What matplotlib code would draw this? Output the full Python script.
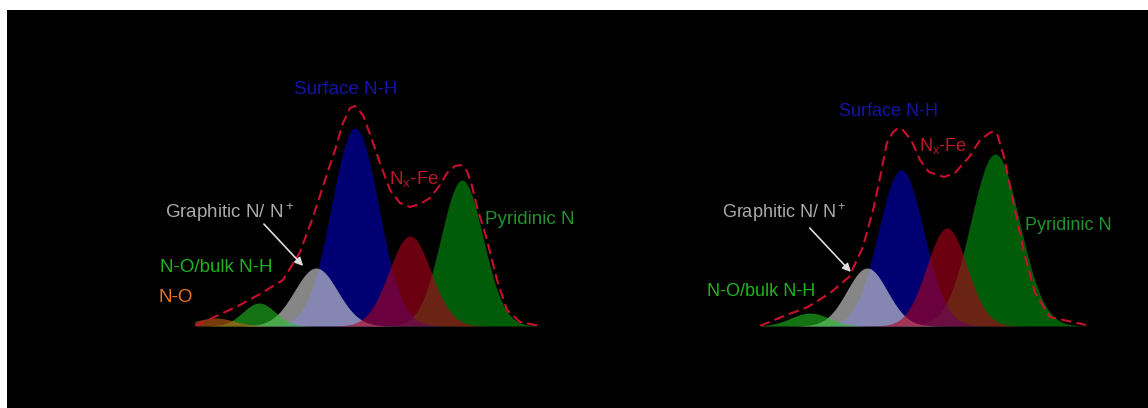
import numpy as np
import matplotlib
matplotlib.use('Agg')
import matplotlib.pyplot as plt
from matplotlib.patches import Rectangle

plt.rcParams['font.family'] = ['Liberation Sans', 'DejaVu Sans']
plt.rcParams['mathtext.default'] = 'regular'

# N 1s fit components: centre (eV), height (a.u.), sigma (eV)
names_a = ['N-O', 'N-O/bulk N-H', 'Graphitic', 'Surface N-H', 'Nx-Fe', 'Pyridinic']
center_a = [403.60, 402.72, 401.58, 400.80, 399.70, 398.66]
height_a = [8, 23, 58, 198, 90, 146]
sigma_a = [0.38, 0.32, 0.43, 0.47, 0.42, 0.42]

names_b = ['N-O/bulk N-H', 'Graphitic', 'Surface N-H', 'Nx-Fe', 'Pyridinic']
center_b = [402.81, 401.45, 400.64, 399.55, 398.40]
height_b = [13, 58, 156, 98, 172]
sigma_b = [0.45, 0.48, 0.54, 0.48, 0.58]

# fitted envelopes
env_e_a = [404.00, 403.70, 403.44, 403.10, 402.70, 402.24, 401.90, 401.64, 401.40,
           401.20, 401.04, 400.90, 400.80, 400.64, 400.46, 400.30, 400.10, 399.90,
           399.70, 399.50, 399.30, 399.10, 398.96, 398.80, 398.68, 398.56, 398.46,
           398.36, 398.16, 397.96, 397.76, 397.50, 397.10]
env_i_a = [0, 7, 13, 21, 32, 46, 74, 109, 146, 176, 203, 218, 220, 211, 186, 163,
           136, 123, 119, 122, 128, 141, 153, 160, 161, 155, 140, 119, 86, 46, 16, 4, 0]

env_e_b = [404.00, 403.55, 402.86, 402.33, 401.88, 401.55, 401.29, 401.12, 400.98,
           400.83, 400.71, 400.60, 400.40, 400.19, 399.98, 399.62, 399.36, 399.02,
           398.76, 398.50, 398.36, 398.19, 397.98, 397.71, 397.45, 397.10, 396.24]
env_i_b = [0, 8, 19, 33, 49, 79, 119, 153, 183, 194, 198, 196, 186, 166, 154, 149,
           153, 169, 186, 194, 193, 169, 126, 73, 33, 9, 1]

fill_colors = {
    'N-O': '#c86414',
    'N-O/bulk N-H': '#22c022',
    'Graphitic': '#e0e0e0',
    'Surface N-H': '#0000c0',
    'Nx-Fe': '#b4001c',
    'Pyridinic': '#009a10',
}
# drawing order of the filled peaks
order = ['Pyridinic', 'Surface N-H', 'Graphitic', 'N-O/bulk N-H', 'Nx-Fe', 'N-O']


def gauss(e, c, h, s):
    return h * np.exp(-(e - c) ** 2 / (2 * s ** 2))


def panel(ax, names, centers, heights, sigmas, env_e, env_i, xlim):
    e = np.linspace(xlim[0], xlim[1], 600)
    for nm in order:
        if nm not in names:
            continue
        i = names.index(nm)
        ax.fill_between(e, 0, gauss(e, centers[i], heights[i], sigmas[i]),
                        color=fill_colors[nm], alpha=0.6, lw=0)
    ax.plot(env_e, env_i, color='#c8102e', lw=1.5, dashes=(5, 2.5))
    ax.set_xlim(xlim)
    ax.set_ylim(0, 300)
    ax.axis('off')


fig = plt.figure(figsize=(11.48, 4.08), dpi=100, facecolor='white')
fig.patches.append(Rectangle((7 / 1148, 0), 1, 1 - 10 / 408, transform=fig.transFigure,
                             facecolor='black', edgecolor='none', zorder=-10))

ax1 = fig.add_axes([195 / 1148, 82 / 408, 345 / 1148, 300 / 408])
ax2 = fig.add_axes([760 / 1148, 82 / 408, 328 / 1148, 300 / 408])
for ax in (ax1, ax2):
    ax.set_facecolor('none')

panel(ax1, names_a, center_a, height_a, sigma_a, env_e_a, env_i_a, (404.0, 397.1))
panel(ax2, names_b, center_b, height_b, sigma_b, env_e_b, env_i_b, (404.0, 396.19))

kw = dict(ha='center', va='center')
fs = 13.5
ax1.text(400.98, 237, 'Surface N-H', color='#1414a8', fontsize=fs, **kw)
ax1.text(399.62, 147, 'N$_x$-Fe', color='#b81a2a', fontsize=fs, **kw)
ax1.text(403.30, 113, 'Graphitic N/ N$^+$', color='#ababab', fontsize=fs, **kw)
ax1.text(397.30, 106, 'Pyridinic N', color='#22922e', fontsize=fs, **kw)
ax1.text(403.58, 59, 'N-O/bulk N-H', color='#1eb41e', fontsize=fs, **kw)
ax1.text(404.38, 28, 'N-O', color='#e8741e', fontsize=fs, **kw)
ax1.annotate('', xy=(401.80, 58), xytext=(402.66, 104),
             arrowprops=dict(arrowstyle='-|>', color='#dddddd', lw=1.2,
                             mutation_scale=12))

fs = 13
ax2.text(400.95, 214, 'Surface N-H', color='#1414a8', fontsize=fs, **kw)
ax2.text(399.64, 180, 'N$_x$-Fe', color='#b81a2a', fontsize=fs, **kw)
ax2.text(403.43, 113, 'Graphitic N/ N$^+$', color='#ababab', fontsize=fs, **kw)
ax2.text(396.67, 101, 'Pyridinic N', color='#22922e', fontsize=fs, **kw)
ax2.text(403.98, 35, 'N-O/bulk N-H', color='#1eb41e', fontsize=fs, **kw)
ax2.annotate('', xy=(401.79, 52), xytext=(402.86, 100),
             arrowprops=dict(arrowstyle='-|>', color='#dddddd', lw=1.2,
                             mutation_scale=12))

fig.savefig('out.png', dpi=100, facecolor=fig.get_facecolor())
